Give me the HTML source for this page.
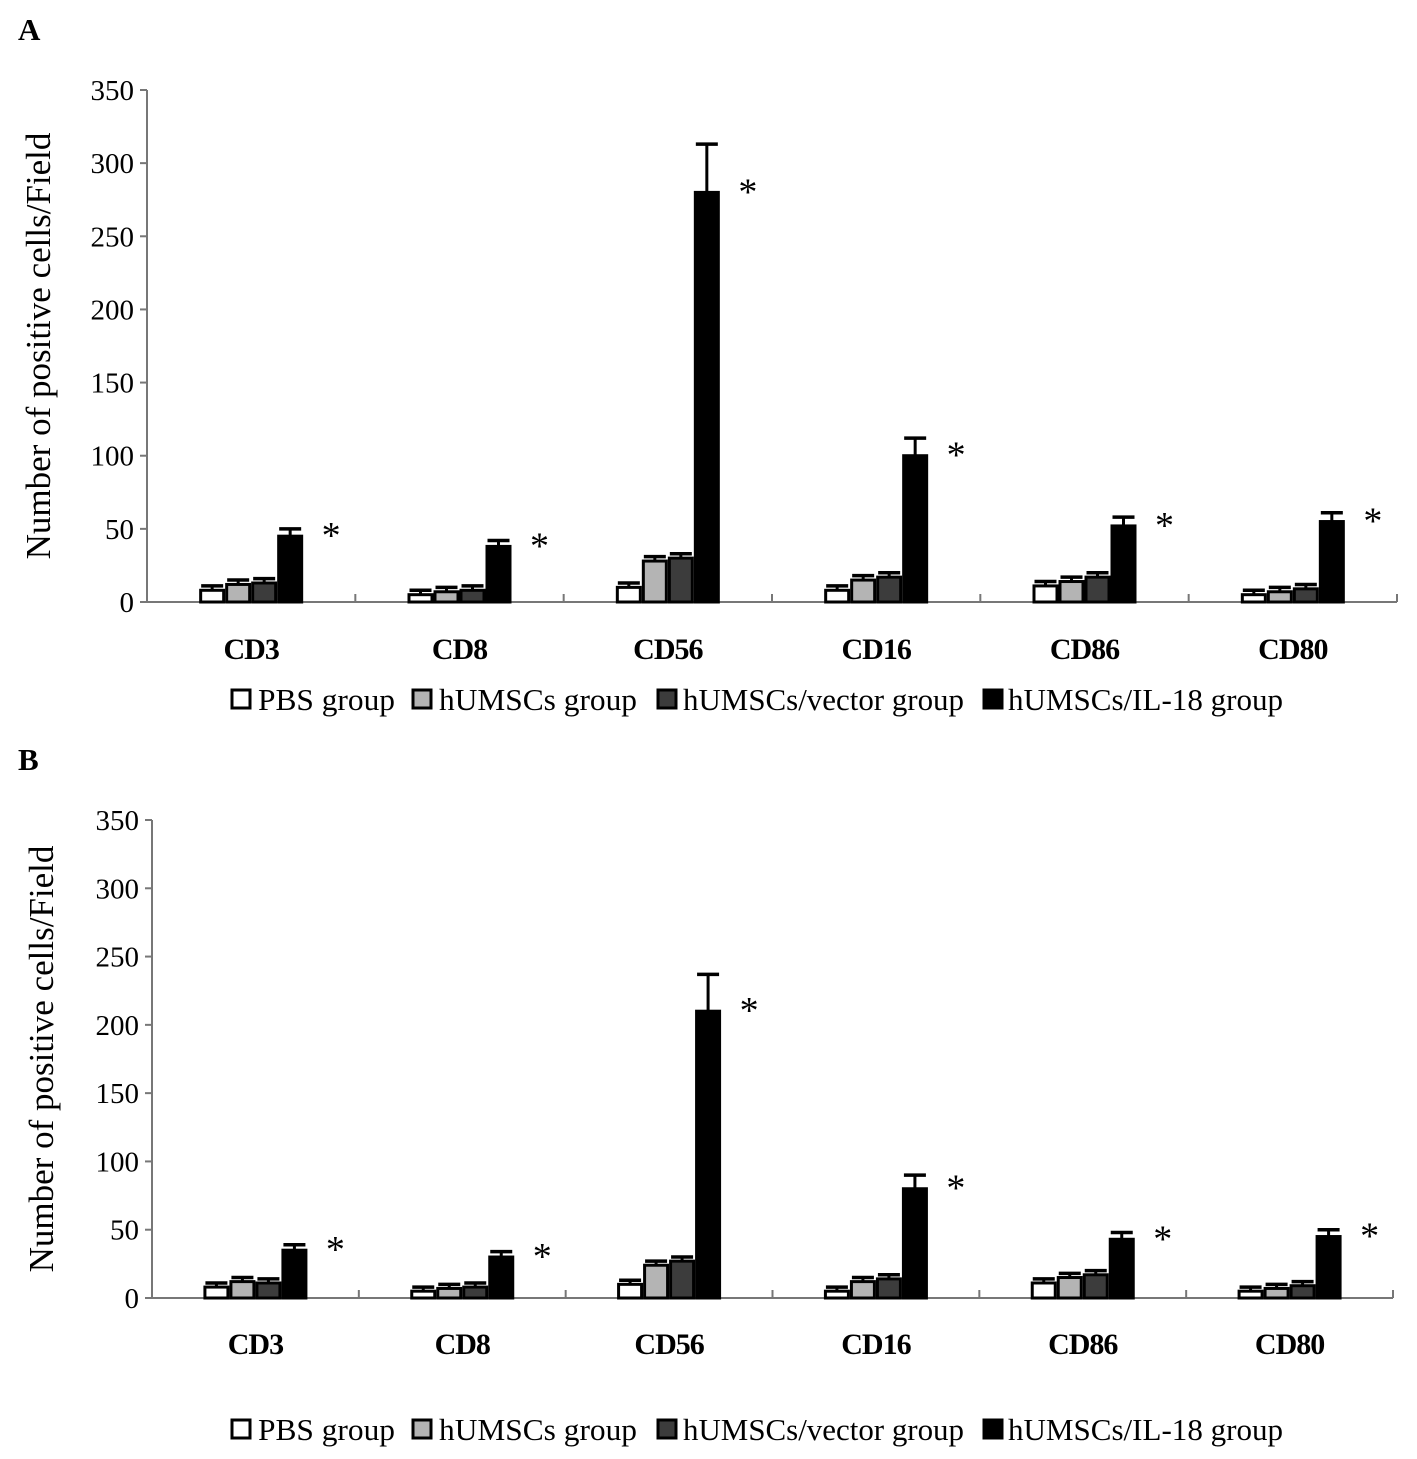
<!DOCTYPE html>
<html><head><meta charset="utf-8"><style>
html,body{margin:0;padding:0;background:#fff}
svg{display:block}
text{font-family:"Liberation Serif",serif;fill:#000}
</style></head><body>
<svg id="chart" width="1417" height="1459" viewBox="0 0 1417 1459"></svg>
<script>
const categories = ["CD3","CD8","CD56","CD16","CD86","CD80"];
const seriesNames = ["PBS group","hUMSCs group","hUMSCs/vector group","hUMSCs/IL-18 group"];
const ticks = [0,50,100,150,200,250,300,350];
const aPBS = [8,5,10,8,11,5];
const aHU = [12,7,28,15,14,7];
const aVec = [13,8,30,17,17,9];
const aIL = [45,38,280,100,52,55];
const aErr = [5,4,33,12,6,6];
const bPBS = [8,5,10,5,11,5];
const bHU = [12,7,24,12,15,7];
const bVec = [11,8,27,14,17,9];
const bIL = [35,30,210,80,43,45];
const bErr = [4,4,27,10,5,5];
const smallErr = 3;

const fills = ["#ffffff","#b4b4b4","#3c3c3c","#000000"];
const NS = "http://www.w3.org/2000/svg";
const svg = document.getElementById("chart");
function mk(tag, attrs, parent){const e=document.createElementNS(NS,tag);for(const k in attrs)e.setAttribute(k,attrs[k]);(parent||svg).appendChild(e);return e;}

function panel(p){
  const g = mk("g",{});
  
  
  const y = v => p.y0 - v*(p.y0-p.y350)/350;
  const cw = (p.x1-p.x0)/categories.length;
  const cx = i => p.x0 + cw*(i+0.5);
  const lt = mk("text",{x:18,y:p.letterY,"font-size":31,"font-weight":"bold"},g);
  lt.textContent = p.id;
  
  
  const ya = mk("line",{x1:p.x0,y1:p.y350,x2:p.x0,y2:p.y0,stroke:"#777","stroke-width":2},g);
  
  
  const xa = mk("line",{x1:p.x0,y1:p.y0,x2:p.x1,y2:p.y0,stroke:"#777","stroke-width":2},g);
  
  
  ticks.forEach(t=>{
    mk("line",{x1:p.x0-7,y1:y(t),x2:p.x0,y2:y(t),stroke:"#777","stroke-width":2},g);
    const tl = mk("text",{x:p.x0-13,y:y(t)+10,"font-size":29,"text-anchor":"end"},g);
    tl.textContent = t;
    
    
  });
  for(let i=1;i<=categories.length;i++){
    mk("line",{x1:p.x0+cw*i,y1:p.y0-8,x2:p.x0+cw*i,y2:p.y0,stroke:"#777","stroke-width":2},g);
  }
  const yt = mk("text",{x:0,y:0,"font-size":35,"text-anchor":"middle",transform:`translate(${p.titleX},${(p.y0+p.y350)/2}) rotate(-90)`},g);
  yt.textContent = "Number of positive cells/Field";
  
  
  const bw = 26;
  categories.forEach((c,i)=>{
    const vals = [p.d[0][i],p.d[1][i],p.d[2][i],p.d[3][i]];
    const left = cx(i) - 2*bw;
    vals.forEach((v,s)=>{
      const bx = left + s*bw;
      const e = s===3 ? p.err[i] : smallErr;
      const eb = mk("line",{x1:bx+bw/2,y1:y(v),x2:bx+bw/2,y2:y(v+e),stroke:"#000","stroke-width":3},g);
      
      
      mk("line",{x1:bx+bw/2-11,y1:y(v+e),x2:bx+bw/2+11,y2:y(v+e),stroke:"#000","stroke-width":3.5},g);
      const r = mk("rect",{x:bx+1.5,y:y(v),width:bw-3,height:p.y0-y(v),fill:fills[s],stroke:"#000","stroke-width":3},g);
      
      
    });
    const st = mk("text",{x:left+4*bw+28,y:y(vals[3])+12,"font-size":38,fill:"#333","text-anchor":"middle"},g);
    st.textContent = "*";
    
    
    const cl = mk("text",{x:cx(i),y:p.catY,"font-size":30,"font-weight":"bold","text-anchor":"middle","letter-spacing":"-1"},g);
    cl.textContent = c;
    
    
  });
  const boxX=[232,413,658,984], txtX=[258,439,683,1008], txtL=[137,198,281,275];
  seriesNames.forEach((n,s)=>{
    const le = mk("g",{},g);
    
    
    mk("rect",{x:boxX[s],y:p.legY-10,width:18,height:18,fill:fills[s],stroke:"#000","stroke-width":3},le);
    const lt2 = mk("text",{x:txtX[s],y:p.legY+10,"font-size":31,textLength:txtL[s],lengthAdjust:"spacingAndGlyphs"},le);
    lt2.textContent = n;
  });
}
panel({id:"A",letterY:40,x0:147,x1:1397,y0:602,y350:90,titleX:50,catY:659,legY:700,d:[aPBS,aHU,aVec,aIL],err:aErr});
panel({id:"B",letterY:770,x0:152,x1:1393,y0:1298,y350:820,titleX:53,catY:1354,legY:1430,d:[bPBS,bHU,bVec,bIL],err:bErr});
</script>
</body></html>
